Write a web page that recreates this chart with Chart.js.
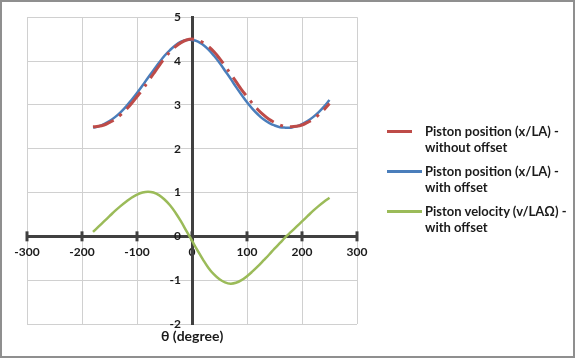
<!DOCTYPE html>
<html>
<head>
<meta charset="utf-8">
<script src="https://cdn.jsdelivr.net/npm/chart.js@4.4.1/dist/chart.umd.min.js"></script>
<style>
  html, body { margin: 0; padding: 0; background: #ffffff; }
  #wrap { position: relative; width: 576px; height: 361px; overflow: hidden; background: #fff; }
  #frame { position: absolute; left: 0; top: 0; width: 571px; height: 354px; border: 2px solid #8f8f8f; pointer-events: none; }
  canvas { position: absolute; left: 0; top: 0; }
  .txt { position: absolute; font-family: Lato, "Open Sans", sans-serif; font-weight: bold; color: #1a1a1a; white-space: nowrap; }
  #xtitle { font-size: 14px; line-height: 16px; }
  .leg { position: absolute; left: 425px; font-size: 13px; line-height: 15.5px; }
  .swatch { position: absolute; height: 3px; }
</style>
</head>
<body>
<div id="wrap">
  <canvas id="c" width="576" height="361"></canvas>
  <div id="legend"></div>
  <div id="xtitle" class="txt"></div>
  <div id="frame"></div>
</div>
<script>
// ---- data ----
const theta = [-180,-170,-160,-150,-140,-130,-120,-110,-100,-90,-80,-70,-60,-50,-40,-30,-20,-10,0,
               10,20,30,40,50,60,70,80,90,100,110,120,130,140,150,160,170,180,190,200,210,220,230,240,250];
const posNoOffset = [2.50,2.51,2.54,2.60,2.67,2.77,2.89,3.03,3.19,3.35,3.53,3.71,3.89,4.06,4.21,4.33,4.42,4.48,4.50,
                     4.48,4.42,4.33,4.21,4.06,3.89,3.71,3.53,3.35,3.19,3.03,2.89,2.77,2.67,2.60,2.54,2.51,2.50,2.51,2.54,2.60,2.67,2.77,2.89,3.03];
const posOffset = [2.48,2.51,2.56,2.63,2.72,2.83,2.96,3.11,3.27,3.44,3.62,3.79,3.96,4.12,4.25,4.36,4.44,4.48,4.48,
                   4.45,4.37,4.26,4.12,3.96,3.78,3.60,3.41,3.23,3.06,2.91,2.78,2.67,2.59,2.53,2.49,2.48,2.48,2.51,2.56,2.63,2.72,2.83,2.96,3.11];
const velOffset = [0.10,0.22,0.34,0.46,0.58,0.69,0.79,0.88,0.95,1.00,1.02,1.00,0.94,0.84,0.71,0.54,0.34,0.12,-0.10,
                   -0.32,-0.53,-0.72,-0.87,-0.98,-1.05,-1.08,-1.06,-1.00,-0.91,-0.80,-0.68,-0.55,-0.42,-0.28,-0.15,-0.02,0.10,0.22,0.34,0.46,0.58,0.69,0.79,0.88];
const seriesNames = [
  ["Piston position (x/LA) -", "without offset"],
  ["Piston position (x/LA) -", "with offset"],
  ["Piston velocity (v/LA\u03A9) -", "with offset"]
];
const xTicks = [-300,-200,-100,0,100,200,300];
const yTicks = [-2,-1,0,1,2,3,4,5];
const xTitle = "\u03B8 (degree)";

// ---- styles ----
const colors = ['#be4b48', '#4a7ebb', '#9bbb59'];
const tickFont = { family: 'Lato', size: 12, weight: 'bold' };
const textColor = '#1a1a1a';
const yLabelGap = 11;

function pts(ys) { return theta.map((t, i) => ({ x: t, y: ys[i] })); }

const xTickMarks = {
  id: 'xTickMarks',
  beforeDatasetsDraw(chart) {
    const ctx = chart.ctx, xs = chart.scales.x, ys = chart.scales.y;
    const y0 = ys.getPixelForValue(0);
    ctx.save();
    ctx.strokeStyle = '#404040';
    ctx.lineWidth = 3;
    xs.ticks.forEach(t => {
      const px = xs.getPixelForValue(t.value);
      ctx.beginPath(); ctx.moveTo(px, y0 - 5); ctx.lineTo(px, y0 + 5); ctx.stroke();
    });
    ctx.restore();
  }
};

const chart = new Chart(document.getElementById('c'), {
  type: 'line',
  data: {
    datasets: [
      { label: seriesNames[0].join(' '), data: pts(posNoOffset), borderColor: colors[0], borderWidth: 3,
        borderDash: [22, 7, 3, 7], pointRadius: 0, tension: 0.4, fill: false },
      { label: seriesNames[1].join(' '), data: pts(posOffset), borderColor: colors[1], borderWidth: 2.5,
        pointRadius: 0, tension: 0.4, fill: false },
      { label: seriesNames[2].join(' '), data: pts(velOffset), borderColor: colors[2], borderWidth: 2.5,
        pointRadius: 0, tension: 0.4, fill: false }
    ]
  },
  options: {
    responsive: false,
    animation: false,
    layout: { padding: { left: 27, top: 15, right: 219, bottom: 37 } },
    plugins: { legend: { display: false }, tooltip: { enabled: false } },
    scales: {
      x: {
        type: 'linear', min: xTicks[0], max: xTicks[xTicks.length - 1],
        position: { y: 0 },
        afterBuildTicks(s) { s.ticks = xTicks.map(v => ({ value: v })); },
        afterFit(s) { s.height = 0; },
        ticks: { font: tickFont, color: textColor, padding: 9, maxRotation: 0, autoSkip: false },
        grid: { color: '#d0d0d0', lineWidth: 1, drawTicks: false },
        border: { color: '#404040', width: 3 }
      },
      y: {
        type: 'linear', min: yTicks[0], max: yTicks[yTicks.length - 1],
        position: { x: 0 },
        afterBuildTicks(s) { s.ticks = yTicks.map(v => ({ value: v })); },
        afterFit(s) { s.width = 0; },
        afterUpdate(s) {
          // keep the labels a small gap to the left of the centred axis line
          const orig = s._computeLabelItems;
          s._computeLabelItems = function (ca) {
            const items = orig.call(this, ca);
            items.forEach(it => { it.options.translation[0] -= yLabelGap; });
            return items;
          };
        },
        ticks: { font: tickFont, color: textColor, padding: 10, autoSkip: false },
        grid: { color: '#d0d0d0', lineWidth: 1, drawTicks: false },
        border: { color: '#404040', width: 3 }
      }
    }
  },
  plugins: [xTickMarks]
});

// ---- legend (HTML, built from datasets) ----
const legend = document.getElementById('legend');
const legTop = [124, 164, 204];
const swW = [25, 35, 35];
chart.data.datasets.forEach((ds, i) => {
  const sw = document.createElement('div');
  sw.className = 'swatch';
  sw.style.left = '387px';
  sw.style.top = (legTop[i] + 6) + 'px';
  sw.style.width = swW[i] + 'px';
  sw.style.background = ds.borderColor;
  legend.appendChild(sw);
  const t = document.createElement('div');
  t.className = 'txt leg';
  t.style.top = legTop[i] + 'px';
  t.innerHTML = seriesNames[i].map(s => s.replace(/&/g,'&amp;').replace(/</g,'&lt;')).join('<br>');
  legend.appendChild(t);
});

// ---- x-axis title, centred on the value 0 ----
const xt = document.getElementById('xtitle');
xt.textContent = xTitle;
const cx = chart.scales.x.getPixelForValue(0);
xt.style.top = (chart.chartArea.bottom + 4) + 'px';
xt.style.left = (cx - xt.offsetWidth / 2) + 'px';
</script>
</body>
</html>
